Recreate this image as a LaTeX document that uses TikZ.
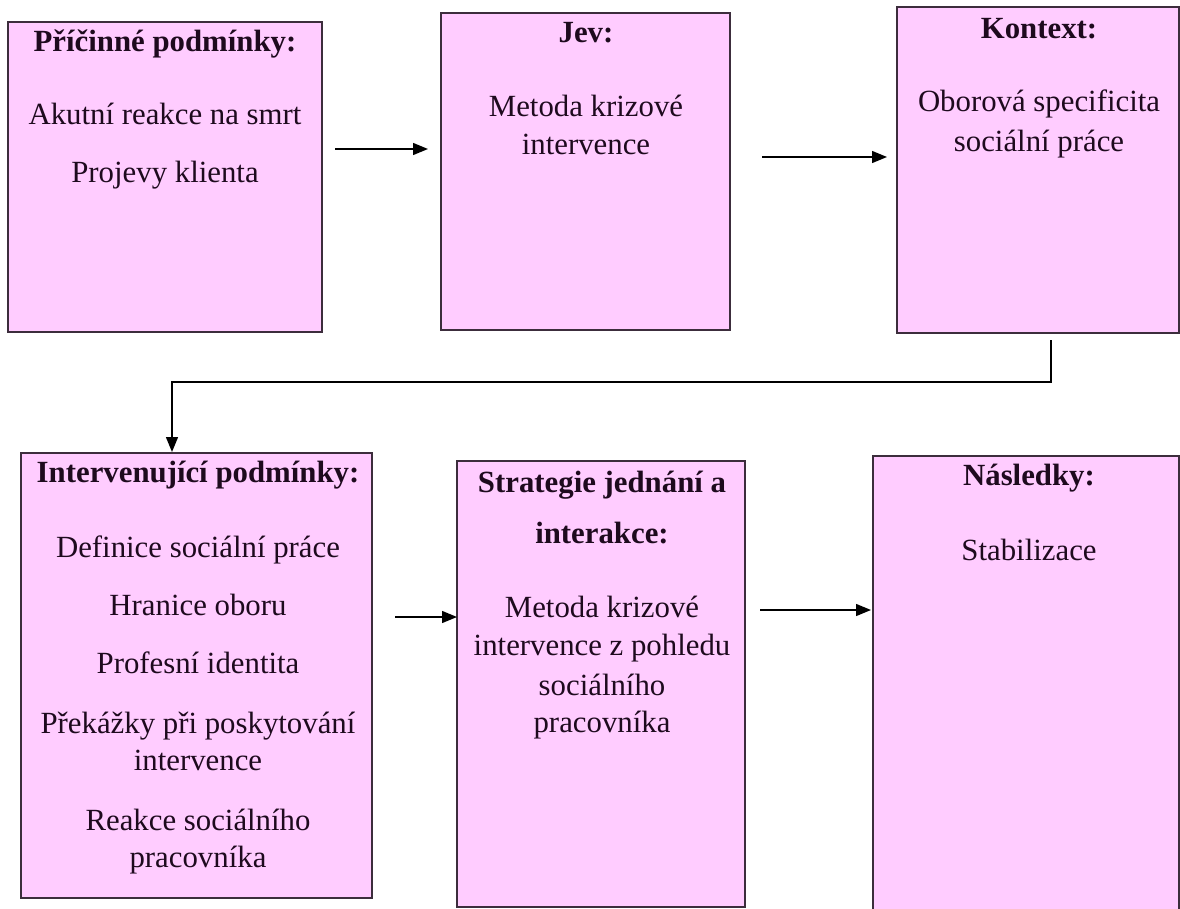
\documentclass[tikz,border=0pt]{standalone}
\usepackage{fontspec}
\setmainfont{Liberation Serif}
\usetikzlibrary{arrows.meta}
\definecolor{boxfill}{RGB}{255,204,255}
\definecolor{boxline}{RGB}{60,45,60}
\definecolor{txtc}{RGB}{30,10,30}
\tikzset{
  box/.style={draw=boxline, line width=1.5pt, fill=boxfill, anchor=north west, inner sep=0pt, outer sep=0pt},
  txt/.style={anchor=base, inner sep=0pt, text=txtc, font=\fontsize{30.8}{36.5}\selectfont},
  ttl/.style={txt, font=\fontsize{30.8}{36.5}\selectfont\bfseries},
  arr/.style={draw=black, line width=1.4pt, -{Triangle[length=15pt,width=12pt]}},
}
\begin{document}
\begin{tikzpicture}[x=1pt,y=-1pt]
\useasboundingbox (0,0) rectangle (1180,909);
% boxes
\node[box, minimum width=314pt, minimum height=310pt] (b1) at (8,22) {};
\node[box, minimum width=289pt, minimum height=317pt] (b2) at (441,13) {};
\node[box, minimum width=282pt, minimum height=326pt] (b3) at (897,7) {};
\node[box, minimum width=351pt, minimum height=445pt] (b4) at (21,453) {};
\node[box, minimum width=288pt, minimum height=446pt] (b5) at (457,461) {};
\node[box, minimum width=306pt, minimum height=470pt] (b6) at (873,456) {};
% texts box 1
\node[ttl] (t1a) at (165,52) {Příčinné podmínky:};
\node[txt] (t1b) at (165,125) {Akutní reakce na smrt};
\node[txt] (t1c) at (165,183) {Projevy klienta};
% box 2
\node[ttl] (t2a) at (586,43) {Jev:};
\node[txt] (t2b) at (586,117) {Metoda krizové};
\node[txt] (t2c) at (586,155) {intervence};
% box 3
\node[ttl] (t3a) at (1039,39) {Kontext:};
\node[txt] (t3b) at (1039,112) {Oborová specificita};
\node[txt] (t3c) at (1039,152) {sociální práce};
% box 4
\node[ttl] (t4a) at (198,482) {Intervenující podmínky:};
\node[txt] (t4b) at (198,557) {Definice sociální práce};
\node[txt] (t4c) at (198,615) {Hranice oboru};
\node[txt] (t4d) at (198,673) {Profesní identita};
\node[txt] (t4e) at (198,733) {Překážky při poskytování};
\node[txt] (t4f) at (198,770) {intervence};
\node[txt] (t4g) at (198,830) {Reakce sociálního};
\node[txt] (t4h) at (198,867) {pracovníka};
% box 5
\node[ttl] (t5a) at (602,492) {Strategie jednání a};
\node[ttl] (t5b) at (602,543) {interakce:};
\node[txt] (t5c) at (602,617) {Metoda krizové};
\node[txt] (t5d) at (602,655) {intervence z pohledu};
\node[txt] (t5e) at (602,695) {sociálního};
\node[txt] (t5f) at (602,732) {pracovníka};
% box 6
\node[ttl] (t6a) at (1029,485) {Následky:};
\node[txt] (t6b) at (1029,560) {Stabilizace};
% connectors
\coordinate (a1s) at (335,149); \coordinate (a1e) at (428,149);
\coordinate (a2s) at (762,157); \coordinate (a2e) at (887,157);
\coordinate (cs) at (1051,340); \coordinate (c1) at (1051,382);
\coordinate (c2) at (172,382); \coordinate (ce) at (172,452);
\coordinate (a3s) at (395,617); \coordinate (a3e) at (457,617);
\coordinate (a4s) at (760,610); \coordinate (a4e) at (871,610);
\draw[arr] (a1s) -- (a1e);
\draw[arr] (a2s) -- (a2e);
\draw[arr] (cs) -- (c1) -- (c2) -- (ce);
\draw[arr] (a3s) -- (a3e);
\draw[arr] (a4s) -- (a4e);
\end{tikzpicture}
\end{document}
